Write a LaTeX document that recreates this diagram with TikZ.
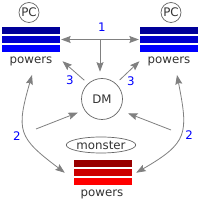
\documentclass[tikz,border=0pt]{standalone}
\usepackage{fontspec}
\setmainfont{DejaVu Sans}
\usepackage{xcolor}
\usepackage{tikz}
\usetikzlibrary{shapes.geometric, arrows.meta, positioning, calc}

\definecolor{linegray}{HTML}{808080}
\definecolor{edgegray}{HTML}{666666}
\definecolor{txtgray}{HTML}{333333}
\definecolor{blueA}{HTML}{000099}
\definecolor{blueB}{HTML}{0000CC}
\definecolor{blueC}{HTML}{0000FF}
\definecolor{redA}{HTML}{990000}
\definecolor{redB}{HTML}{CC0000}
\definecolor{redC}{HTML}{FF0000}

\begin{document}
\begin{tikzpicture}[
      x=1pt, y=1pt,
      role/.style={circle, draw=edgegray, line width=0.7pt, minimum size=20pt, inner sep=0pt, text=txtgray, font=\fontsize{11.8}{13}\selectfont},
      bar/.style={rectangle, minimum width=58pt, minimum height=7.5pt, inner sep=0pt},
      lbl/.style={anchor=base, inner sep=0pt, text=txtgray, font=\fontsize{11.8}{13}\selectfont},
      num/.style={inner sep=0pt, text=blue, font=\fontsize{11.8}{13}\selectfont},
      link/.style={draw=linegray, line width=0.8pt},
      >={Stealth[length=9.5pt, width=7pt, inset=1.5pt]}
    ]
    \useasboundingbox[fill=white] (0,0) rectangle (200,200);

    % Player characters
    \node[role] (pcL) at (29,187.5) {PC};
    \node[role] (pcR) at (171,187.5) {PC};

    % Power stacks
    \node[bar, fill=blueA] (bL1) at (31,169.5) {};
    \node[bar, fill=blueB] (bL2) at (31,160.5) {};
    \node[bar, fill=blueC] (bL3) at (31,151.5) {};
    \node[bar, fill=blueA] (bR1) at (169,169.5) {};
    \node[bar, fill=blueB] (bR2) at (169,160.5) {};
    \node[bar, fill=blueC] (bR3) at (169,151.5) {};
    \node[bar, fill=redA] (bB1) at (103,36.25) {};
    \node[bar, fill=redB] (bB2) at (103,27.25) {};
    \node[bar, fill=redC] (bB3) at (103,18.25) {};

    \node[lbl] (pwL) at (31,136.7) {powers};
    \node[lbl] (pwR) at (169,136.7) {powers};
    \node[lbl] (pwB) at (102,4) {powers};

    % Dungeon master and monster
    \node[role, minimum size=41pt] (dm) at (102,101) {DM};
    \node[ellipse, draw=edgegray, line width=0.7pt, minimum width=62pt, minimum height=16pt, inner sep=0pt, text=txtgray, font=\fontsize{11.8}{13}\selectfont] (mon) at (101,55) {monster};

    % Exchange 1
    \coordinate (top) at ($(bL2.east)!0.5!(bR2.west)$);
    \draw[link, <->, shorten <=1pt, shorten >=1pt] (bL2.east) -- (bR2.west);
    \draw[link, ->, shorten >=6.5pt] (top) -- (top |- dm.north);
    \node[num] (n1) at (102,173) {1};

    % Exchange 3
    \draw[link, ->, shorten <=5pt] (dm.132) -- ($(pwL.east)+(10,0)$);
    \draw[link, ->, shorten <=5pt] (dm.48) -- ($(pwR.west)+(-8,0)$);
    \node[num] (n3L) at (70,120) {3};
    \node[num] (n3R) at (131,119) {3};

    % Exchange 2
    \coordinate (sL) at (36,71);
    \coordinate (sR) at (171,70);
    \draw[link, ->, shorten >=7pt] (sL) -- (dm.212);
    \draw[link, ->, shorten >=9pt] (sR) -- (dm.328);
    \draw[link, <->] ($(pwL.south)+(1,-9)$) to[out=254, in=143, looseness=1.45] ($(bB2.west)+(-9,0)$);
    \draw[link, <->] ($(pwR.south)+(8,-9)$) to[out=281, in=30, looseness=1.45] ($(bB2.east)+(4,0)$);
    \node[num] (n2L) at (17,64) {2};
    \node[num] (n2R) at (189,65) {2};
  \end{tikzpicture}
\end{document}
